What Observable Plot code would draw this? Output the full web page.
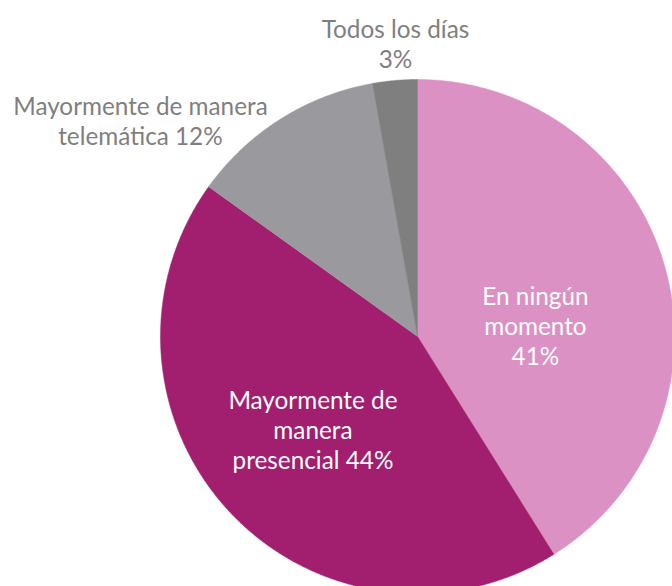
<!DOCTYPE html>
<html>
<head>
<meta charset="utf-8">
<script src="https://cdn.jsdelivr.net/npm/d3@7"></script>
<script src="https://cdn.jsdelivr.net/npm/@observablehq/plot@0.6"></script>
<style>
  html, body { margin: 0; padding: 0; background: #fff; }
  #chart svg { display: block; }
</style>
</head>
<body>
<div id="chart"></div>
<script>
// ---- data ----
const categories = ["En ningún momento", "Mayormente de manera presencial", "Mayormente de manera telemática", "Todos los días"];
const values = [41.1, 43.8, 12.3, 2.8];
const labelTexts = ["En ningún\nmomento\n41%", "Mayormente de\nmanera\npresencial 44%", "Mayormente de manera\ntelemática 12%", "Todos los días\n3%"];
const colors = ["#dc91c5", "#a21e6e", "#9a999e", "#7f7f7f"];
const labelColors = ["#ffffff", "#ffffff", "#7f7f7f", "#7f7f7f"];

// ---- layout ----
const W = 672, H = 586;
const cx = 417, cy = 336, R = 257;           // pixel centre & radius of pie
const labelPolar = [                           // label placement: angle (deg, clockwise from top), radius (fraction of R)
  {a: 84.5, r: 0.461},
  {a: 228.4, r: 0.544},
  {a: 308.0, r: 1.368},
  {a: 355.7, r: 1.145}
];

const pie = d3.pie().sort(null).value(d => d.value);
const arcs = pie(categories.map((c, i) => ({category: c, value: values[i]})));

const pts = [];
arcs.forEach(a => {
  const cat = a.data.category;
  pts.push({category: cat, x: 0, y: 0});
  const steps = Math.max(2, Math.ceil((a.endAngle - a.startAngle) / (Math.PI / 720)));
  for (let k = 0; k <= steps; k++) {
    const t = a.startAngle + (a.endAngle - a.startAngle) * k / steps;
    pts.push({category: cat, x: Math.sin(t), y: Math.cos(t)});
  }
  pts.push({category: cat, x: 0, y: 0});
});

const labels = arcs.map((a, i) => {
  const t = labelPolar[i].a * Math.PI / 180;
  return {text: labelTexts[i], color: labelColors[i], x: labelPolar[i].r * Math.sin(t), y: labelPolar[i].r * Math.cos(t)};
});

const chart = Plot.plot({
  width: W,
  height: H,
  margin: 0,
  x: {domain: [-cx / R, (W - cx) / R], axis: null},
  y: {domain: [(cy - H) / R, cy / R], axis: null},
  color: {domain: categories, range: colors},
  style: {background: "#fff", overflow: "hidden"},
  marks: [
    Plot.line(pts, {x: "x", y: "y", z: "category", fill: "category", stroke: "category", strokeWidth: 0.5, curve: "linear"}),
    Plot.text(labels, {
      x: "x", y: "y", text: "text", fill: d => d.color,
      fontSize: 24.3, lineHeight: 1.24, textAnchor: "middle", lineAnchor: "middle",
      fontFamily: "Lato, 'Open Sans', sans-serif"
    })
  ]
});
document.getElementById("chart").appendChild(chart);
</script>
</body>
</html>
